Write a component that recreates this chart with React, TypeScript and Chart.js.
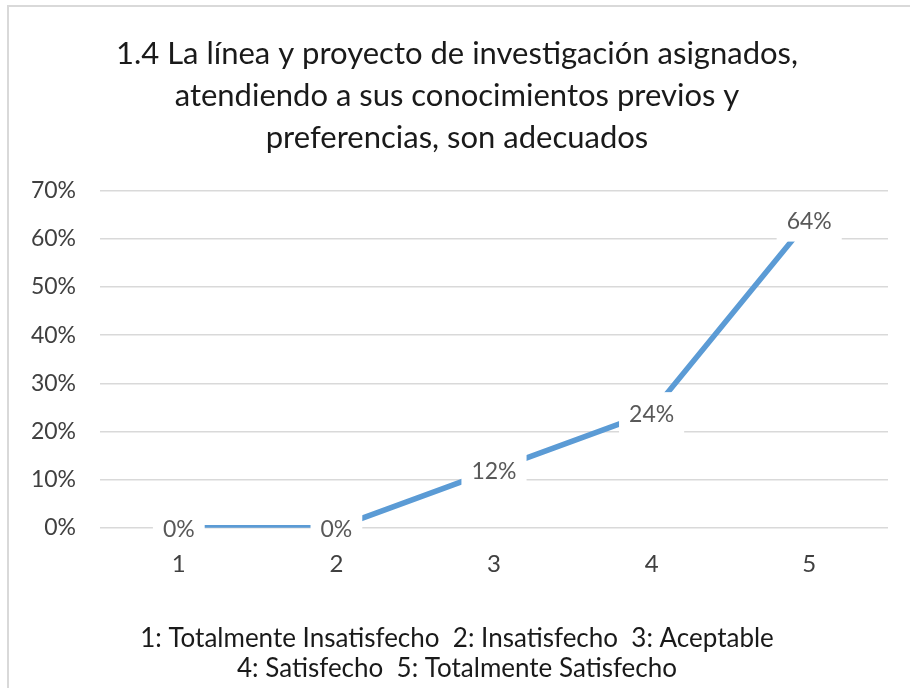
import React, { useEffect, useRef } from "react";
import { Chart, registerables } from "chart.js";

Chart.register(...registerables);

const categories = ["1", "2", "3", "4", "5"];
const values = [0, 0, 12, 24, 64];
const titleLines = [
  "1.4 La línea y proyecto de investigación asignados,",
  "atendiendo a sus conocimientos previos y",
  "preferencias, son adecuados",
];
const footerLines = [
  "1: Totalmente Insatisfecho  2: Insatisfecho  3: Aceptable",
  "4: Satisfecho  5: Totalmente Satisfecho",
];
const yMin = 0;
const yMax = 70;
const yStep = 10;

const FONT = "Lato, 'Noto Sans', sans-serif";

const labelPlugin = {
  id: "pointLabels",
  afterDatasetsDraw(chart: any) {
    const ctx = chart.ctx;
    const meta = chart.getDatasetMeta(0);
    ctx.save();
    ctx.font = `23px ${FONT}`;
    ctx.textAlign = "center";
    ctx.textBaseline = "middle";
    meta.data.forEach((pt: any, i: number) => {
      const txt = `${values[i]}%`;
      const w = ctx.measureText(txt).width + 20;
      const h = 42;
      const cx = pt.x;
      const cy = pt.y + 1;
      ctx.fillStyle = "#ffffff";
      ctx.fillRect(cx - w / 2, cy - h / 2, w, h);
      ctx.fillStyle = "#595959";
      ctx.fillText(txt, cx, cy + 1);
    });
    ctx.restore();
  },
};

export default function App() {
  const ref = useRef<HTMLCanvasElement | null>(null);
  useEffect(() => {
    if (!ref.current) return;
    const chart = new Chart(ref.current, {
      type: "line",
      data: {
        labels: categories,
        datasets: [
          {
            data: values,
            borderColor: "#5b9bd5",
            borderWidth: 5.5,
            pointRadius: 0,
            tension: 0,
            fill: false,
          },
        ],
      },
      options: {
        animation: false,
        responsive: false,
        layout: { padding: { left: 26, right: 22, top: 0, bottom: 0 } },
        plugins: {
          legend: { display: false },
          tooltip: { enabled: false },
          title: {
            display: true,
            text: titleLines,
            color: "#1a1a1a",
            font: { family: FONT, size: 31, weight: "normal", lineHeight: "42px" },
            padding: { top: 33, bottom: 31.7 },
          },
          subtitle: {
            display: true,
            position: "bottom",
            text: footerLines,
            color: "#1a1a1a",
            font: { family: FONT, size: 26, weight: "normal", lineHeight: "30px" },
            padding: { top: 22.7, bottom: 4 },
          },
        },
        scales: {
          x: {
            offset: true,
            grid: { display: false, drawTicks: false },
            border: { display: false },
            ticks: {
              color: "#404040",
              font: { family: FONT, size: 24 },
              padding: 22.4,
            },
          },
          y: {
            min: yMin,
            max: yMax,
            grid: { color: "#d9d9d9", lineWidth: 1.5, drawTicks: false },
            border: { display: false },
            afterFit: (s: any) => {
              s.width = 74;
            },
            ticks: {
              stepSize: yStep,
              color: "#404040",
              font: { family: FONT, size: 23 },
              padding: 24,
              callback: (v: any) => `${v}%`,
            },
          },
        },
      },
      plugins: [labelPlugin],
    });
    return () => chart.destroy();
  }, []);
  return (
    <>
      <div
        style={{
          position: "fixed",
          left: 0,
          top: 0,
          width: 910,
          height: 688,
          background: "#ffffff",
        }}
      >
        <canvas ref={ref} width={910} height={688} style={{ display: "block" }} />
      </div>
      <div
        style={{
          position: "fixed",
          left: 7,
          top: 5,
          right: 0,
          bottom: 0,
          borderLeft: "2.5px solid #d9d9d9",
          borderTop: "2.5px solid #d9d9d9",
          pointerEvents: "none",
        }}
      />
    </>
  );
}
